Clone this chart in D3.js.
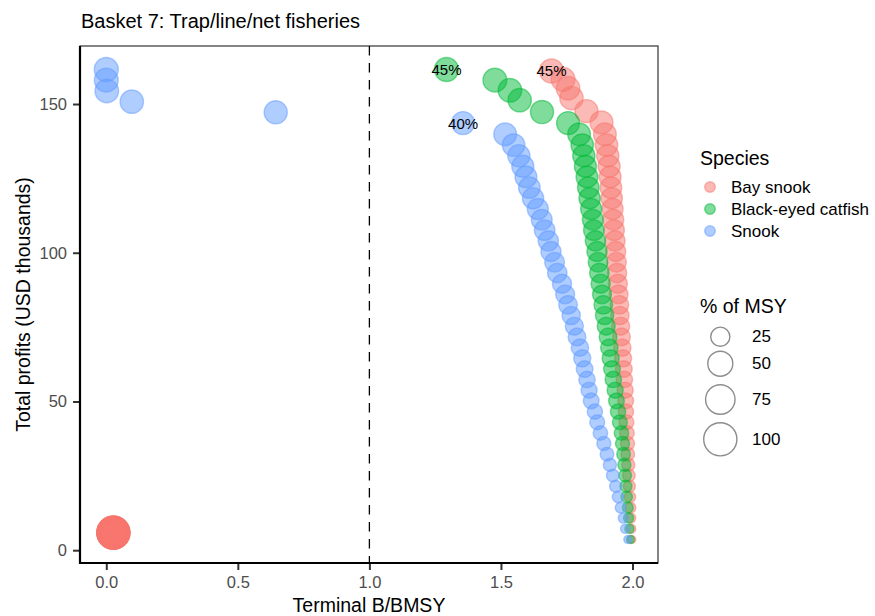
<!DOCTYPE html>
<html>
<head>
<meta charset="utf-8">
<script src="https://cdn.jsdelivr.net/npm/d3@7"></script>
<style>
  html, body { margin: 0; padding: 0; background: #fff; }
  svg { display: block; font-family: "Liberation Sans", Arial, Helvetica, sans-serif; }
</style>
</head>
<body>
<svg id="chart" width="875" height="616"></svg>
<script>
// Harvest scenarios by species: % of MSY, terminal B/BMSY and total profits (USD thousands)
const species = ["Bay snook", "Black-eyed catfish", "Snook"];
const speciesColours = ["#F8766D", "#00BA38", "#619CFF"];

const baySnookPct = [1,2,3,4,5,6,7,8,9,10,11,12,13,14,15,16,17,18,19,20,21,22,23,24,25,26,27,28,29,30,
  31,32,33,34,35,36,37,38,39,40,41,42,43,44,45,46,47,48,49,50,51,52,53,54,55,56,57,58,59,60,
  61,62,63,64,65,66,67,68,69,70,71,72,73,74,75,76,77,78,79,80,81,82,83,84,85,86,87,88,89,90,
  91,92,93,94,95,96,97,98,99,100];
const baySnookB = [1.997,1.995,1.993,1.992,1.990,1.988,1.986,1.984,1.982,1.981,1.979,1.977,1.975,1.974,1.972,
  1.969,1.967,1.964,1.961,1.958,1.955,1.952,1.950,1.947,1.944,1.941,1.939,1.936,1.933,1.930,
  1.927,1.924,1.921,1.918,1.915,1.911,1.906,1.901,1.895,1.882,1.825,1.768,1.755,1.736,1.692,
  0.027,0.027,0.027,0.027,0.027,0.027,0.027,0.027,0.027,0.027,0.027,0.027,0.027,0.027,0.027,
  0.027,0.027,0.027,0.027,0.027,0.027,0.027,0.027,0.027,0.027,0.027,0.027,0.027,0.027,0.027,
  0.027,0.027,0.027,0.027,0.027,0.027,0.027,0.027,0.027,0.027,0.027,0.027,0.027,0.027,0.027,
  0.027,0.027,0.027,0.027,0.027,0.027,0.027,0.027,0.027,0.027];
const baySnookProfit = [3.6,7.2,10.8,14.3,17.9,21.5,25.1,28.7,32.3,35.9,39.4,43.0,46.6,50.2,53.8,
  57.4,60.9,64.5,68.1,71.7,75.3,78.9,82.5,86.0,89.6,93.2,96.8,100.4,104.0,107.6,
  111.1,114.7,118.3,121.9,125.5,129.1,132.6,136.2,139.8,143.8,147.6,152.0,155.3,158.3,161.1,
  5.9,5.9,5.9,5.9,5.9,5.9,5.9,5.9,5.9,5.9,5.9,5.9,5.9,5.9,5.9,
  5.9,5.9,5.9,5.9,5.9,5.9,5.9,5.9,5.9,5.9,5.9,5.9,5.9,5.9,5.9,
  5.9,5.9,5.9,5.9,5.9,5.9,5.9,5.9,5.9,5.9,5.9,5.9,5.9,5.9,5.9,
  5.9,5.9,5.9,5.9,5.9,5.9,5.9,5.9,5.9,5.9];

const catfishPct = [1,2,3,4,5,6,7,8,9,10,11,12,13,14,15,16,17,18,19,20,21,22,23,24,25,26,27,28,29,30,
  31,32,33,34,35,36,37,38,39,40,41,42,43,44,45];
const catfishB = [1.992,1.988,1.985,1.982,1.978,1.975,1.972,1.969,1.966,1.962,1.958,1.952,1.945,1.939,1.934,
  1.927,1.922,1.917,1.912,1.907,1.900,1.894,1.889,1.884,1.879,1.874,1.869,1.865,1.859,1.853,
  1.849,1.843,1.837,1.832,1.827,1.821,1.815,1.809,1.797,1.755,1.656,1.571,1.534,1.477,1.293];
const catfishProfit = [3.6,7.2,10.8,14.3,17.9,21.5,25.1,28.7,32.3,35.9,39.4,43.0,46.6,50.2,53.8,
  57.4,60.9,64.5,68.1,71.7,75.3,78.9,82.5,86.0,89.6,93.2,96.8,100.4,104.0,107.6,
  111.1,114.7,118.3,121.9,125.5,129.1,132.6,136.2,139.8,143.6,147.3,151.3,154.6,158.0,161.6];

const snookPct = [1,2,3,4,5,6,7,8,9,10,11,12,13,14,15,16,17,18,19,20,21,22,23,24,25,26,27,28,29,30,
  31,32,33,34,35,36,37,38,39,40,41,42,43,44,45];
const snookB = [1.982,1.972,1.965,1.955,1.945,1.936,1.925,1.914,1.903,1.891,1.878,1.866,1.857,1.843,1.835,
  1.827,1.818,1.809,1.800,1.789,1.779,1.767,1.755,1.744,1.732,1.714,1.704,1.690,1.680,1.666,
  1.655,1.640,1.622,1.608,1.595,1.583,1.568,1.548,1.516,1.356,0.644,0.097,0.002,0.000,0.000];
const snookProfit = [3.6,7.2,10.8,14.3,17.9,21.5,25.1,28.7,32.3,35.9,39.4,43.0,46.6,50.2,53.8,
  57.4,60.9,64.5,68.1,71.7,75.3,78.9,82.5,86.0,89.6,93.2,96.8,100.4,104.0,107.6,
  111.1,114.7,118.3,121.9,125.5,129.1,132.6,136.2,139.8,143.6,147.2,150.8,154.4,158.0,161.6];

// Scenario annotated with its % of MSY for each species
const labelSpecies = ["Black-eyed catfish", "Bay snook", "Snook"];
const labelPct = [45, 45, 40];

const xTicks = [0, 0.5, 1, 1.5, 2];
const yTicks = [0, 50, 100, 150];
const sizeBreaks = [25, 50, 75, 100];
const referenceB = 1;

// Long-format rows built from the arrays above
const series = [
  { name: species[0], pct: baySnookPct, b: baySnookB, profit: baySnookProfit },
  { name: species[1], pct: catfishPct, b: catfishB, profit: catfishProfit },
  { name: species[2], pct: snookPct, b: snookB, profit: snookProfit }
];
const rows = [];
series.forEach(s => s.pct.forEach((p, i) => rows.push({ species: s.name, pct: p, b: s.b[i], profit: s.profit[i] })));

const svg = d3.select("#chart");
const panel = { left: 80, right: 658, top: 46, bottom: 563 };
const FONT_TICK = 16.5, FONT_LEGEND = 17, FONT_TITLE = 19.5;

function expand(ext) {
  const pad = (ext[1] - ext[0]) * 0.05;
  return [ext[0] - pad, ext[1] + pad];
}
const x = d3.scaleLinear().domain(expand(d3.extent(rows, d => d.b))).range([panel.left, panel.right]);
const y = d3.scaleLinear().domain(expand(d3.extent(rows, d => d.profit))).range([panel.bottom, panel.top]);
const r = d3.scaleSqrt().domain([0, 100]).range([2.6, 16.6]);
const colour = d3.scaleOrdinal().domain(species).range(speciesColours);

// Title
svg.append("text")
  .attr("x", 81).attr("y", 27.5)
  .attr("font-size", 20).attr("fill", "#000")
  .text("Basket 7: Trap/line/net fisheries");

// Panel border
svg.append("rect")
  .attr("x", panel.left).attr("y", panel.top)
  .attr("width", panel.right - panel.left).attr("height", panel.bottom - panel.top)
  .attr("fill", "none").attr("stroke", "#333").attr("stroke-width", 1.2);

// Reference line at B/BMSY = 1
svg.append("line")
  .attr("x1", x(referenceB)).attr("x2", x(referenceB))
  .attr("y1", panel.top).attr("y2", panel.bottom)
  .attr("stroke", "#000").attr("stroke-width", 1.3)
  .attr("stroke-dasharray", "9.5,7.5");

// Points: each scenario drawn as a translucent bubble sized by % of MSY
svg.append("g").selectAll("circle")
  .data(rows)
  .join("circle")
  .attr("cx", d => x(d.b))
  .attr("cy", d => y(d.profit))
  .attr("r", d => r(d.pct))
  .attr("fill", d => colour(d.species)).attr("fill-opacity", 0.5)
  .attr("stroke", d => colour(d.species)).attr("stroke-opacity", 0.5)
  .attr("stroke-width", 1.4);

// Annotations
const labelRows = labelSpecies.map((s, i) => rows.find(d => d.species === s && d.pct === labelPct[i]));
svg.append("g").selectAll("text")
  .data(labelRows)
  .join("text")
  .attr("x", d => x(d.b))
  .attr("y", d => y(d.profit))
  .attr("text-anchor", "middle").attr("dominant-baseline", "central")
  .attr("font-size", 15).attr("fill", "#000")
  .text(d => d.pct + "%");

// Axes
const xAxis = svg.append("g")
  .attr("transform", `translate(0,${panel.bottom})`)
  .call(d3.axisBottom(x).tickValues(xTicks).tickFormat(d3.format(".1f")).tickSizeOuter(0).tickSize(7).tickPadding(6));
const yAxis = svg.append("g")
  .attr("transform", `translate(${panel.left},0)`)
  .call(d3.axisLeft(y).tickValues(yTicks).tickSizeOuter(0).tickSize(7).tickPadding(6));
[xAxis, yAxis].forEach(g => {
  g.select(".domain").remove();
  g.selectAll(".tick line").attr("stroke", "#333").attr("stroke-width", 2);
  g.selectAll(".tick text").attr("font-size", FONT_TICK).attr("fill", "#4D4D4D")
    .attr("font-family", "Liberation Sans, Arial, sans-serif");
});
svg.append("line").attr("x1", panel.left).attr("x2", panel.left)
  .attr("y1", panel.top).attr("y2", panel.bottom + 1)
  .attr("stroke", "#000").attr("stroke-width", 2.2);
svg.append("line").attr("x1", panel.left - 1).attr("x2", panel.right)
  .attr("y1", panel.bottom).attr("y2", panel.bottom)
  .attr("stroke", "#000").attr("stroke-width", 2.2);

// Axis titles
svg.append("text")
  .attr("x", (panel.left + panel.right) / 2).attr("y", 612)
  .attr("text-anchor", "middle").attr("font-size", FONT_TITLE)
  .text("Terminal B/BMSY");
svg.append("text")
  .attr("transform", `translate(30,${(panel.top + panel.bottom) / 2}) rotate(-90)`)
  .attr("text-anchor", "middle").attr("font-size", FONT_TITLE)
  .text("Total profits (USD thousands)");

// Species legend
const leg = svg.append("g");
leg.append("text").attr("x", 700).attr("y", 165).attr("font-size", FONT_TITLE).text("Species");
species.forEach((s, i) => {
  const cy = 187 + i * 22;
  leg.append("circle").attr("cx", 710).attr("cy", cy).attr("r", 5.3)
    .attr("fill", colour(s)).attr("fill-opacity", 0.5)
    .attr("stroke", colour(s)).attr("stroke-opacity", 0.5).attr("stroke-width", 1.4);
  leg.append("text").attr("x", 731).attr("y", cy).attr("dominant-baseline", "central")
    .attr("font-size", FONT_LEGEND).text(s);
});

// Size legend
leg.append("text").attr("x", 700).attr("y", 313).attr("font-size", FONT_TITLE).text("% of MSY");
const sizeY = [336.7, 363.7, 399.5, 439.3];
sizeBreaks.forEach((v, i) => {
  leg.append("circle").attr("cx", 720.3).attr("cy", sizeY[i]).attr("r", r(v))
    .attr("fill", "none").attr("stroke", "#000").attr("stroke-opacity", 0.45).attr("stroke-width", 1.4);
  leg.append("text").attr("x", 752).attr("y", sizeY[i]).attr("dominant-baseline", "central")
    .attr("font-size", FONT_LEGEND).text(v);
});
</script>
</body>
</html>
